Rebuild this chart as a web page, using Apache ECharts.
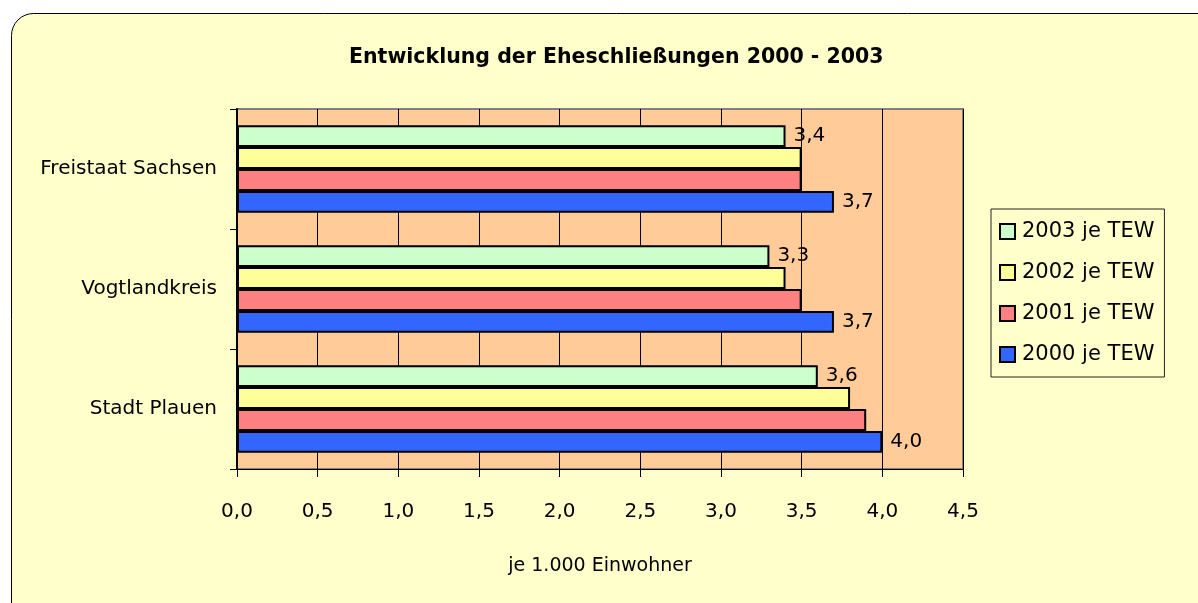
<!DOCTYPE html>
<html>
<head>
<meta charset="utf-8">
<script src="https://cdn.jsdelivr.net/npm/echarts@6/dist/echarts.min.js"></script>
<style>
  html, body { margin: 0; padding: 0; background: #ffffff; }
  #chart { width: 1198px; height: 603px; }
</style>
</head>
<body>
<div id="chart"></div>
<script>
// categories bottom to top (category axis runs upward)
const regions = ["Stadt Plauen", "Vogtlandkreis", "Freistaat Sachsen"];
const xTicks = [0, 0.5, 1, 1.5, 2, 2.5, 3, 3.5, 4, 4.5];

const values2000 = [4.0, 3.7, 3.7];
const values2001 = [3.9, 3.5, 3.5];
const values2002 = [3.8, 3.4, 3.5];
const values2003 = [3.6, 3.3, 3.4];

const legendOrder = ["2003 je TEW", "2002 je TEW", "2001 je TEW", "2000 je TEW"];

const fontFamily = "DejaVu Sans";
const fmt = (v) => v.toFixed(1).replace(".", ",");

const chart = echarts.init(document.getElementById("chart"));

const barLabel = {
  show: true,
  position: "right",
  distance: 8,
  color: "#000",
  fontFamily: fontFamily,
  fontSize: 20,
  formatter: (p) => fmt(p.value)
};

const makeSeries = (name, data, color, withLabel) => ({
  name: name,
  type: "bar",
  data: data,
  barGap: "0%",
  barCategoryGap: "27%",
  itemStyle: { color: color, borderColor: "#000", borderWidth: 2 },
  label: withLabel ? barLabel : { show: false },
  emphasis: { disabled: true },
  z: 3
});

const option = {
  animation: false,
  textStyle: { fontFamily: fontFamily },
  graphic: [
    {
      type: "rect",
      z: -100,
      silent: true,
      shape: { x: 11.5, y: 13.5, width: 1220, height: 620, r: 22 },
      style: { fill: "#FFFFCC", stroke: "#000", lineWidth: 1 }
    }
  ],
  title: {
    text: "Entwicklung der Eheschließungen 2000 - 2003",
    left: 344,
    top: 42,
    textStyle: { fontFamily: fontFamily, fontSize: 20.5, fontWeight: "bold", color: "#000" }
  },
  legend: {
    orient: "vertical",
    left: 991,
    top: 209,
    padding: [12, 10, 12, 8],
    itemGap: 20,
    itemWidth: 15,
    itemHeight: 15,
    backgroundColor: "#FFFFCC",
    borderColor: "#222",
    borderWidth: 1,
    borderRadius: 0,
    data: legendOrder,
    textStyle: { fontFamily: fontFamily, fontSize: 21, color: "#000", padding: [0, 0, 0, 2] },
    icon: "rect"
  },
  grid: {
    left: 237,
    top: 109,
    right: 235,
    bottom: 134,
    show: true,
    backgroundColor: "#FFCC99",
    borderColor: "#808080",
    borderWidth: 2
  },
  xAxis: {
    type: "value",
    min: xTicks[0],
    max: xTicks[xTicks.length - 1],
    interval: 0.5,
    name: "je 1.000 Einwohner",
    nameLocation: "middle",
    nameGap: 88,
    nameTextStyle: { fontFamily: fontFamily, fontSize: 19, color: "#000" },
    axisLine: { show: true, lineStyle: { color: "#000", width: 1 } },
    axisTick: { show: true, length: 8, lineStyle: { color: "#000" } },
    axisLabel: {
      margin: 33,
      fontFamily: fontFamily,
      fontSize: 20,
      color: "#000",
      formatter: (v) => fmt(v)
    },
    splitLine: { show: true, lineStyle: { color: "#000", width: 1 } }
  },
  yAxis: {
    type: "category",
    data: regions,
    axisLine: { show: true, lineStyle: { color: "#000", width: 2 } },
    axisTick: { show: true, length: 7, lineStyle: { color: "#000" } },
    axisLabel: { margin: 20, fontFamily: fontFamily, fontSize: 20, color: "#000" },
    splitLine: { show: false }
  },
  // first series is drawn at the top of each group
  series: [
    makeSeries("2003 je TEW", values2003, "#CCFFCC", true),
    makeSeries("2002 je TEW", values2002, "#FFFF99", false),
    makeSeries("2001 je TEW", values2001, "#FF8080", false),
    makeSeries("2000 je TEW", values2000, "#3366FF", true)
  ]
};

chart.setOption(option);
</script>
</body>
</html>
